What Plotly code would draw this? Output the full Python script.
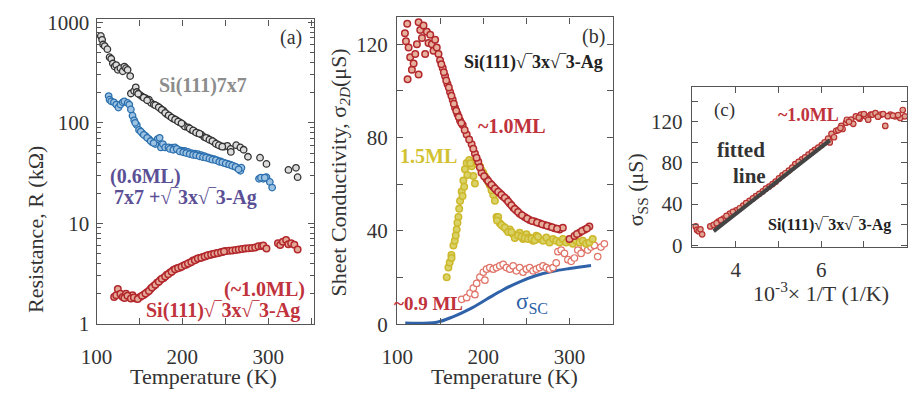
import plotly.graph_objects as go

# ---------------- Panel (a): Resistance vs Temperature ----------------
T_7x7 = [105, 106.5, 107.6, 109.5, 112.6, 115.2, 117.1, 119, 121, 122.9, 124.8, 127.8, 130.5, 132.4,
         134.3, 136.2, 139.2, 140, 143.8, 145.7, 146.9, 150.7, 153.3, 157.1, 161, 163.6, 166.7, 170.5,
         174.3, 178.1, 181.9, 185.7, 189.5, 193.3, 197.1, 201, 202.9, 206.7, 210.5, 214.3, 218.1, 221.9,
         225.7, 229.5, 233.3, 237.1, 240.9, 244.8, 248.6, 252.4, 256.2, 256.5, 262.7, 267.6, 271.4, 276.4,
         290.5, 298, 323.6, 332.4, 334.3,
         148.5, 155, 159, 168.5, 172.5, 176, 180, 184, 187.5, 191.5, 195, 199, 208.5, 212.5, 216, 220,
         227.5, 231.5, 235, 239, 242.5, 246.5]
R_7x7 = [733, 671, 603, 581, 541, 451, 435, 390, 363, 376, 337, 350, 326, 363,
         350, 337, 292, 196, 208, 226, 203, 189, 182, 176, 170, 158, 152, 147,
         139, 132, 122, 116, 110, 106, 101, 96, 92, 90, 85, 82, 79, 76.5,
         72, 70, 67, 64, 61, 58.5, 58, 59, 55, 51.4, 60, 57, 54, 46,
         45, 39, 34, 35.7, 28.8,
         195, 178, 168, 150, 143, 135, 126, 119, 113, 108, 103, 99, 88, 84, 80, 78,
         71, 68, 66, 62, 60, 58]

T_06 = [114.1, 115.2, 117.1, 120.2, 122.9, 125.5, 127.8, 130.5, 132.4, 136.2, 138.1, 140, 141.9, 143.8,
        146.9, 149.5, 153.3, 157.1, 161, 164.8, 168.6, 171.2, 173.5, 175, 177.3, 180, 183.8, 187.6,
        191.4, 195.2, 199, 202.9, 206.7, 210.5, 214.3, 218.1, 221.9, 225.7, 229.5, 233.3, 237.1, 240.9,
        244.8, 248.6, 252.4, 256.2, 260, 263.8, 267.6, 268.8, 289.3, 294.3, 298, 301.9, 304.6,
        145, 151.5, 155, 159, 163, 166.5, 185.5, 189.5, 193.5, 197, 201, 204.5, 208.5, 212.5, 216,
        220, 224, 227.5, 231.5, 235, 239, 243, 246.5, 250.5, 254.5, 258, 262, 265.5, 291.5, 296]
R_06 = [185, 170, 164, 160, 152, 142, 152, 160, 164, 158, 152, 136, 118, 106,
        95, 85, 79, 74, 69, 64, 61.5, 69, 71, 57, 61.5, 57, 57, 56.5,
        57, 54, 53, 52.5, 51.4, 50, 49.5, 48.9, 47.8, 46.7, 45.4, 44.4, 43.5, 42.3,
        41.3, 39.9, 39, 38.2, 37, 35.8, 33.3, 35.8, 27.7, 27.7, 28.8, 25.8, 22.7,
        100, 82, 76, 71, 66, 63, 55, 54, 55, 52, 51, 50, 49, 48, 47.5,
        46.5, 45.5, 45, 44, 43, 42.5, 41, 40.5, 39.5, 38.5, 37.5, 36.5, 34.5, 28.5, 28.5]

T_10a = [120.5, 122.9, 124.8, 127.8, 130.5, 134.3, 138.1, 141.9, 145.7, 150.7, 155.2, 159, 162.9, 166.7,
         170.5, 174.3, 178.1, 181.9, 185.7, 189.5, 193.3, 197.1, 201, 204.8, 208.6, 212.4, 216.2, 220,
         223.8, 227.6, 231.4, 235.2, 239, 242.9, 246.7, 250.5, 254.3, 258.1, 262, 265.7, 269.5, 273.3,
         277.1, 281, 284.8, 288.6, 292.4, 294.3, 298, 311.4, 314, 317.1, 320.9, 323.5, 326.7, 330.5, 334.3,
         132.5, 136, 140, 143.5, 148, 153, 157, 161, 164.5, 168.5, 172.5, 176, 180, 183.5, 187.5,
         191.5, 195, 199, 203, 206.5, 210.5, 214.5, 218, 222, 226, 229.5, 233.5, 237, 241, 245, 248.5]
R_10a = [1.85, 1.92, 2.22, 1.99, 1.85, 1.99, 1.85, 1.92, 1.78, 1.85, 1.95, 2.06, 2.22, 2.38,
         2.56, 2.72, 2.86, 3.07, 3.23, 3.43, 3.55, 3.63, 3.78, 3.9, 4.05, 4.26, 4.4, 4.51,
         4.62, 4.74, 4.83, 4.92, 5.0, 5.1, 5.2, 5.29, 5.33, 5.37, 5.43, 5.49, 5.55, 5.6,
         5.64, 5.69, 5.75, 5.9, 5.95, 6.02, 5.6, 6.34, 6.1, 6.57, 6.81, 6.2, 6.34, 6.11, 5.49,
         1.8, 1.9, 1.78, 1.83, 1.76, 1.9, 2.0, 2.12, 2.3, 2.45, 2.62, 2.8, 2.95, 3.12, 3.3,
         3.48, 3.6, 3.7, 3.85, 3.98, 4.12, 4.3, 4.46, 4.55, 4.68, 4.8, 4.88, 4.97, 5.05, 5.15, 5.25]

# ---------------- Panel (b): Sheet conductivity ----------------
T_b10 = [109, 110.2, 111.7, 112.1, 113.3, 115.1, 117.1, 119.1, 121, 122.9, 124.9, 124.9, 126.8, 128.8,
         130.6, 132.5, 134.5, 136.4, 138.4, 140.3, 142.2, 144.1, 146, 148, 149.8, 152.9, 155.6, 158.4,
         161.4, 164.5, 167.2, 170, 173, 176.1, 180.7, 186.5, 190.3, 194.2, 198, 203.8, 207.7, 211.6,
         215.4, 219.2, 223, 227, 230.8, 234.7, 238.5, 242.3, 248, 253.9, 259.7, 265.4, 271.2, 277,
         282.8, 288.6, 292.4, 300.1, 305.9, 311.7, 317.5, 323.2,
         151.3, 154.2, 157, 160, 163, 165.8, 168.6, 171.5, 174.5, 178.4, 183.6, 188.4, 192.2, 196,
         201, 205.7, 209.6, 213.5, 217.3, 221.1, 225, 228.9, 232.7, 236.6, 240.4, 245, 251, 256.8,
         262.5, 268.3, 274.1, 279.9, 285.7, 308.8, 314.6, 320.3]
S_b10 = [124.7, 121.3, 128.8, 105, 118.6, 114.5, 109.1, 111.8, 115.9, 120, 129.5, 107.1, 126.1, 122.7,
         128.1, 115.9, 125.4, 120.6, 124.1, 120, 117.3, 122, 118.6, 115.9, 113.2, 109.8, 106.4, 103,
         99.6, 96.2, 92.8, 90.1, 87.4, 85.4, 81.3, 77.2, 73.2, 69.7, 65, 62.3, 60.5, 58.9,
         57.5, 56.2, 54.8, 53.5, 51.8, 50.1, 48.8, 47.4, 46, 44.7, 44, 43.3, 42.6, 41.9,
         41.2, 40.6, 41.4, 36.5, 37.8, 39.2, 40.5, 41.9,
         111.5, 108, 104.5, 101.5, 98, 94.5, 91.5, 88.8, 86.3, 83.3, 79.2, 75.2, 71.4, 67.3,
         63.5, 61.4, 59.8, 58.2, 56.8, 55.5, 54.2, 52.6, 51, 49.4, 48.1, 46.7, 45.3, 44.3,
         43.6, 42.9, 42.2, 41.6, 40.9, 38.7, 40, 41.1]

T_b15 = [157.5, 159.5, 161, 163, 163.1, 165.3, 166.9, 169.1, 171.1, 173, 174.9, 176.9, 178.7, 180.7,
         183.8, 186.5, 188.4, 190.3, 192.3, 196.1, 200, 203.8, 207.6, 211.6, 215.4, 217.3, 219.2, 223.1,
         226.9, 230.8, 234.7, 238.5, 242.3, 246.2, 250.1, 253.9, 257.8, 261.6, 265.4, 269.4, 273.2, 277,
         281, 284.7, 288.6, 292.5, 296.3, 300.1, 304, 307.9, 311.7, 315.6, 319.4, 323.2, 327.1,
         168, 170, 172, 175.9, 177.8, 181.5, 185, 194, 198, 202, 205.7, 209.6, 213.5, 216, 221, 225,
         228.9, 232.7, 236.6, 240.4, 244.3, 248.1, 252, 255.9, 259.7, 263.5]
S_b15 = [20.2, 24.3, 26.5, 29.7, 28.4, 33.8, 35.8, 40.6, 46, 52.8, 56.9, 61.6, 66.4, 69.1,
         70.4, 67.7, 63.6, 60.3, 70.4, 67.7, 65, 62.3, 59.6, 55.5, 46, 46, 43.3, 41.9,
         40.6, 40.6, 38.6, 37.9, 39.2, 36.5, 38.6, 37.2, 35.8, 37.9, 36.5, 35.8, 37.2, 35.1,
         36.5, 35.8, 35.1, 36.5, 35.1, 35.8, 34.5, 35.8, 35.1, 35.8, 34.5, 35.1, 36.5,
         38, 43.5, 49.5, 55, 59, 64, 69, 68.5, 66, 63.5, 61, 57.5, 53, 44.5, 42.5, 41.5,
         39.5, 39.5, 37, 38, 37.5, 37, 36.5, 36.8, 36, 37.5]

T_b09 = [174.9, 180.7, 184.6, 188.4, 190.3, 192.3, 196.1, 200, 201.9, 203.8, 207.6, 211.5, 215.4, 219.2,
         223.1, 226.9, 230.8, 234.7, 238.5, 242.3, 246.2, 250.1, 253.9, 257.8, 261.6, 265.4, 269.4, 273.2,
         277, 281, 284.7, 286.7, 290.5, 294.3, 298.3, 302.1, 305.9, 309.8, 313.6, 317.4, 321.3, 325.1,
         329, 332.9, 336.7, 340.6]
S_b09 = [10.7, 11.4, 13.4, 15.5, 12.7, 17.5, 20.2, 22.3, 18.9, 23.6, 24.3, 23.6, 24.3, 25,
         25.7, 24.3, 23.6, 25, 22.9, 24.3, 22.3, 23.6, 24.3, 22.9, 23.6, 24.3, 25, 24.3,
         23.6, 24.3, 26.3, 31.1, 31.8, 30.4, 27.7, 27, 28.4, 31.8, 30.4, 33.1, 31.8, 33.1,
         33.8, 29, 33.1, 34.5]

T_sc = [109.4, 146, 165.3, 184.6, 203.8, 223.1, 242.3, 261.6, 281, 300.1, 325.1]
S_sc = [0.5, 0.9, 3.3, 6.6, 10.7, 14.8, 18.2, 20.9, 22.7, 23.9, 25.2]

# ---------------- Panel (c): sigma_ss vs 1/T ----------------
X_c = [3.06, 3.09, 3.13, 3.17, 3.21, 3.40, 3.48, 3.59, 3.71, 3.86, 4.01, 4.17, 4.32, 4.47, 4.63,
       4.78, 4.93, 5.09, 5.24, 5.39, 5.55, 5.70, 5.85, 6.01, 6.16, 6.2, 6.24, 6.3, 6.35, 6.4, 6.47,
       6.5, 6.58, 6.6, 6.70, 6.75, 6.81, 6.9, 6.93, 7.04, 7.1, 7.16, 7.2, 7.27, 7.39, 7.50, 7.62,
       7.73, 7.85, 7.91, 7.96,
       3.55, 3.65, 3.78, 3.93, 4.09, 4.24, 4.4, 4.55, 4.7, 4.86, 5.01, 5.16, 5.32, 5.47, 5.62,
       5.78, 5.93, 6.08, 6.45, 6.65, 6.88, 7.0, 7.33, 7.45, 7.56, 7.68, 7.8]
S_c = [18.3, 14.9, 13.7, 15.5, 10.6, 18.3, 19.9, 23, 26, 30.7, 33.9, 38.5, 43.2, 47.8, 52.5,
       57.1, 61.8, 67.9, 72.6, 78.8, 83.4, 88.1, 92.7, 97.4, 103.6, 100, 108.3, 105, 111.3, 112, 116,
       113, 119.1, 122, 122.2, 118, 125.3, 123, 126.9, 125.3, 122, 126.9, 127, 128.4, 126.9, 116, 126.9,
       125.3, 123.7, 131.5, 125.3,
       21.5, 24.5, 28.5, 32.5, 36, 41, 45.5, 50, 55, 59.5, 65, 70, 75.5, 81, 85.5,
       90.5, 95, 100, 114, 120, 124, 127.5, 125, 127.5, 125.5, 126, 126.5]
X_fit = [3.48, 6.20]
S_fit = [13.7, 102]

W, H = 909, 398
FONT = "Liberation Serif, Times New Roman, serif"
AX = "#555555"
TXT = "#333333"
RED = "#c0323c"


def px(x):
    return x / W


def py(y):
    return 1 - y / H


def mk(fill, edge, size=6.5, width=1.3):
    return dict(symbol="circle", size=size, color=fill, line=dict(color=edge, width=width))


fig = go.Figure()
fig.add_trace(go.Scatter(x=T_7x7, y=R_7x7, mode="markers", marker=mk("#dcdcdc", "#333333"),
                         xaxis="x", yaxis="y"))
fig.add_trace(go.Scatter(x=T_06, y=R_06, mode="markers", marker=mk("#9cc2e2", "#2b6fae"),
                         xaxis="x", yaxis="y"))
fig.add_trace(go.Scatter(x=T_10a, y=R_10a, mode="markers", marker=mk("#e4a896", "#b3282d", 6.5, 1.5),
                         xaxis="x", yaxis="y"))

fig.add_trace(go.Scatter(x=T_sc, y=S_sc, mode="lines", line=dict(color="#2f62a8", width=3, shape="spline"),
                         xaxis="x2", yaxis="y2"))
fig.add_trace(go.Scatter(x=T_b09, y=S_b09, mode="markers", marker=mk("white", "#e07468", 6.5, 1.2),
                         xaxis="x2", yaxis="y2"))
fig.add_trace(go.Scatter(x=T_b15, y=S_b15, mode="markers", marker=mk("#d9d264", "#cdb82c", 6.5, 1.5),
                         xaxis="x2", yaxis="y2"))
fig.add_trace(go.Scatter(x=T_b10, y=S_b10, mode="markers", marker=mk("#e6b09c", "#b3282d", 6.5, 1.5),
                         xaxis="x2", yaxis="y2"))

fig.add_trace(go.Scatter(x=X_c, y=S_c, mode="markers", marker=mk("#e0a494", "#b83030", 5.5, 1.2),
                         xaxis="x3", yaxis="y3"))
fig.add_trace(go.Scatter(x=X_fit, y=S_fit, mode="lines", line=dict(color="#444444", width=4),
                         xaxis="x3", yaxis="y3"))

common = dict(showline=True, linecolor=AX, linewidth=1.3, mirror="ticks", ticks="inside",
              tickcolor=AX, tickwidth=1.2, ticklen=6, showgrid=False, zeroline=False,
              tickfont=dict(family=FONT, size=21, color=TXT))

fig.update_layout(
    width=W, height=H, margin=dict(l=0, r=0, t=0, b=0),
    paper_bgcolor="white", plot_bgcolor="white", showlegend=False,
    font=dict(family=FONT, color=TXT),
    xaxis=dict(domain=[px(82), px(303)], range=[100, 353], anchor="y",
               tickvals=[100, 200, 300], ticklabelstandoff=13,
               minor=dict(tickvals=[150, 250, 350], ticks="inside", ticklen=6, tickcolor=AX), **common),
    yaxis=dict(domain=[py(333), py(12)], type="log", range=[-0.005, 3.03], anchor="x",
               tickvals=[1, 10, 100, 1000], ticktext=["1", "10", "100", "1000"], ticklabelstandoff=2,
               minor=dict(tickvals=[2, 3, 4, 5, 6, 7, 8, 9, 20, 30, 40, 50, 60, 70, 80, 90,
                                    200, 300, 400, 500, 600, 700, 800, 900],
                          ticks="inside", ticklen=4, tickcolor=AX), **common),
    xaxis2=dict(domain=[px(388), px(608)], range=[100, 351], anchor="y2",
                tickvals=[100, 200, 300], ticklabelstandoff=13,
                minor=dict(tickvals=[150, 250, 350], ticks="inside", ticklen=6, tickcolor=AX), **common),
    yaxis2=dict(domain=[py(333), py(10)], range=[0, 131.5], anchor="x2",
                tickvals=[0, 40, 80, 120], ticklabelstandoff=4,
                minor=dict(tickvals=[20, 60, 100], ticks="inside", ticklen=6, tickcolor=AX), **common),
    xaxis3=dict(domain=[px(688), px(907)], range=[2.97, 8.01], anchor="y3",
                tickvals=[4, 6, 8], ticklabelstandoff=3,
                minor=dict(tickvals=[5, 7], ticks="inside", ticklen=6, tickcolor=AX), **common),
    yaxis3=dict(domain=[py(252), py(83)], range=[-2, 154], anchor="x3",
                tickvals=[0, 40, 80, 120], ticklabelstandoff=4,
                minor=dict(tickvals=[20, 60, 100, 140], ticks="inside", ticklen=6, tickcolor=AX), **common),
)

SQ = "Si(111)√‾3x√‾3-Ag"


def ann(x, y, text, size=19, color=TXT, bold=False, angle=0):
    if bold:
        text = "<b>" + text + "</b>"
    fig.add_annotation(x=px(x), y=py(y), xref="paper", yref="paper", text=text, showarrow=False,
                       font=dict(family=FONT, size=size, color=color), textangle=angle,
                       xanchor="center", yanchor="middle", borderpad=0)


# axis titles
ann(191, 388, "Temperature (K)", 22)
ann(497, 388, "Temperature (K)", 22)
ann(819, 299, "10<sup>-3</sup>× 1/T (1/K)", 22)
ann(20, 233, "Resistance, R (kΩ)", 22, angle=-90)
ann(330, 173, "Sheet Conductivity, σ<sub><i>2D</i></sub>(μS)", 22, angle=-90)
ann(633, 191, "σ<sub>SS</sub> (μS)", 22, angle=-90)

# panel (a) labels
ann(280, 31, "(a)", 20)
ann(190, 82, "Si(111)7x7", 20, "#8c8c8c", True)
ann(132, 177, "(0.6ML)", 20, "#5b4f96", True)
ann(173, 200, "7x7 +√‾3x√‾3-Ag", 20, "#5b4f96", True)
ann(253, 296, "(~1.0ML)", 20, RED, True)
ann(211, 318, SQ, 20, RED, True)

# panel (b) labels
ann(588, 30, "(b)", 20)
ann(527, 57, SQ, 18, "#222222", True)
ann(505, 124, "~1.0ML", 20, RED, True)
ann(420, 156, "1.5ML", 20, "#d2c232", True)
ann(420, 311, "~0.9 ML", 19, RED, True)
ann(525, 311, "σ<sub>SC</sub>", 23, "#2f62a8")

# panel (c) labels
ann(721, 107, "(c)", 19)
ann(807, 113, "~1.0ML", 18, RED, True)
ann(738, 150, "fitted", 21, "#333333", True)
ann(747, 177, "line", 21, "#333333", True)
ann(828, 229, SQ, 16, "#222222", True)

fig.write_html("out.html", config={"displayModeBar": False},
               post_script="document.body.style.margin='0';document.body.style.overflow='hidden';")
